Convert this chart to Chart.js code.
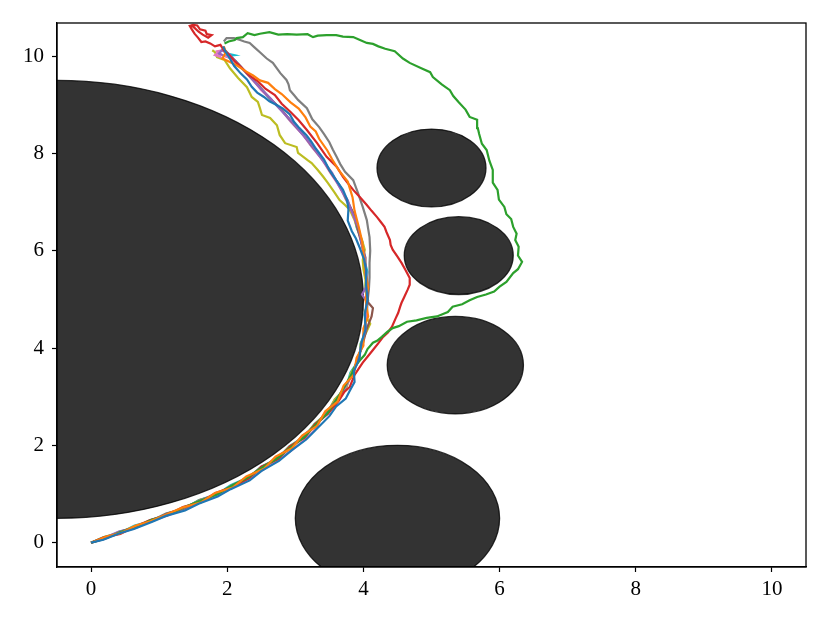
<!DOCTYPE html>
<html>
<head>
<meta charset="utf-8">
<script src="https://cdn.jsdelivr.net/npm/chart.js@4.4.0/dist/chart.umd.min.js"></script>
<style>
html, body { margin: 0; padding: 0; background: #fff; }
</style>
</head>
<body>
<canvas id="chart" width="830" height="623"></canvas>
<script>
// axis ticks
const xTicks = [0, 2, 4, 6, 8, 10];
const yTicks = [0, 2, 4, 6, 8, 10];

// obstacles: centre x, centre y, radius
const obstacleX = [-0.5, 5.0, 5.4, 5.35, 4.5];
const obstacleY = [5.0, 7.7, 5.9, 3.65, 0.5];
const obstacleR = [4.5, 0.8, 0.8, 1.0, 1.5];

// trajectories [x, y]
const trackBlue = [[0,0],[0.18,0.06],[0.41,0.19],[0.63,0.28],[0.9,0.43],[1.1,0.55],[1.38,0.66],[1.58,0.8],[1.86,0.95],[2.05,1.1],[2.33,1.28],[2.5,1.47],[2.76,1.68],[2.95,1.9],[3.16,2.12],[3.33,2.36],[3.5,2.6],[3.6,2.8],[3.74,2.96],[3.8,3.12],[3.87,3.3],[3.86,3.52],[3.94,3.78],[3.97,4.1],[4.03,4.38],[4.02,4.7],[4.06,5.0],[4.04,5.3],[4.04,5.6],[4.01,5.82],[3.95,6.05],[3.89,6.25],[3.83,6.4],[3.77,6.62],[3.78,6.85],[3.76,7.05],[3.7,7.25],[3.6,7.45],[3.5,7.66],[3.42,7.88],[3.3,8.1],[3.23,8.25],[3.16,8.38],[3.06,8.52],[2.98,8.65],[2.92,8.8],[2.82,8.92],[2.72,9.0],[2.62,9.07],[2.54,9.16],[2.44,9.25],[2.36,9.37],[2.29,9.52],[2.2,9.64],[2.1,9.8],[2.04,9.95],[1.97,10.1],[1.94,10.2]];
const trackOrange = [[0,0],[0.22,0.12],[0.44,0.2],[0.66,0.35],[0.87,0.44],[1.14,0.6],[1.34,0.72],[1.62,0.83],[1.82,1.02],[2.09,1.14],[2.28,1.36],[2.54,1.52],[2.71,1.77],[2.95,1.94],[3.1,2.2],[3.32,2.4],[3.44,2.7],[3.62,2.9],[3.71,3.23],[3.86,3.45],[3.9,3.8],[4.0,4.05],[4.0,4.4],[4.07,4.65],[4.03,5.0],[4.07,5.25],[4.03,5.55],[4.01,5.85],[3.98,6.2],[3.93,6.5],[3.87,6.82],[3.84,7.1],[3.77,7.42],[3.64,7.65],[3.54,7.88],[3.47,8.06],[3.35,8.3],[3.3,8.45],[3.22,8.55],[3.15,8.74],[3.05,8.92],[2.93,9.05],[2.8,9.22],[2.7,9.32],[2.6,9.45],[2.48,9.5],[2.38,9.6],[2.28,9.68],[2.15,9.8],[2.04,9.88],[1.93,9.95],[1.98,10.08],[1.95,10.2]];
const trackGreen = [[0,0],[0.2,0.08],[0.43,0.22],[0.64,0.31],[0.89,0.47],[1.11,0.56],[1.37,0.73],[1.6,0.86],[1.85,0.99],[2.08,1.18],[2.29,1.33],[2.53,1.56],[2.72,1.72],[2.94,1.97],[3.13,2.17],[3.31,2.44],[3.47,2.66],[3.61,2.95],[3.72,3.2],[3.83,3.47],[3.86,3.58],[3.93,3.72],[4.02,3.86],[4.06,3.98],[4.14,4.11],[4.2,4.15],[4.27,4.23],[4.35,4.33],[4.43,4.41],[4.52,4.45],[4.64,4.54],[4.78,4.57],[4.93,4.62],[5.08,4.65],[5.24,4.74],[5.31,4.85],[5.45,4.9],[5.56,4.98],[5.67,5.05],[5.8,5.1],[5.92,5.16],[6.0,5.26],[6.1,5.36],[6.2,5.54],[6.27,5.62],[6.33,5.77],[6.27,5.9],[6.28,6.08],[6.23,6.22],[6.25,6.35],[6.2,6.49],[6.17,6.65],[6.1,6.75],[6.07,6.9],[5.99,7.05],[5.97,7.25],[5.9,7.4],[5.9,7.66],[5.85,7.85],[5.81,8.07],[5.74,8.2],[5.7,8.4],[5.68,8.52],[5.67,8.69],[5.56,8.75],[5.5,8.9],[5.4,9.05],[5.32,9.18],[5.27,9.3],[5.15,9.42],[5.02,9.57],[4.98,9.67],[4.85,9.75],[4.68,9.86],[4.58,9.95],[4.46,10.1],[4.32,10.15],[4.22,10.2],[4.14,10.25],[4.05,10.27],[3.95,10.33],[3.85,10.39],[3.7,10.4],[3.6,10.43],[3.46,10.43],[3.33,10.42],[3.26,10.39],[3.18,10.45],[3.02,10.44],[2.88,10.45],[2.75,10.44],[2.62,10.49],[2.48,10.46],[2.4,10.43],[2.3,10.47],[2.23,10.39],[2.14,10.37],[2.11,10.33],[2.02,10.3],[1.96,10.26]];
const trackRed = [[0,0],[0.19,0.11],[0.43,0.18],[0.66,0.34],[0.86,0.46],[1.13,0.57],[1.35,0.73],[1.62,0.84],[1.83,1.02],[2.06,1.14],[2.32,1.32],[2.5,1.56],[2.75,1.72],[2.92,1.98],[3.14,2.16],[3.29,2.44],[3.48,2.65],[3.64,2.92],[3.72,3.1],[3.8,3.2],[3.87,3.45],[3.99,3.7],[4.06,3.82],[4.14,3.96],[4.22,4.1],[4.29,4.23],[4.36,4.32],[4.42,4.44],[4.47,4.6],[4.51,4.72],[4.54,4.85],[4.56,4.93],[4.6,5.05],[4.65,5.2],[4.68,5.3],[4.68,5.44],[4.62,5.6],[4.56,5.75],[4.5,5.88],[4.43,6.02],[4.4,6.12],[4.39,6.22],[4.34,6.38],[4.31,6.49],[4.25,6.6],[4.2,6.69],[4.12,6.82],[4.05,6.94],[3.95,7.1],[3.85,7.25],[3.77,7.39],[3.7,7.52],[3.61,7.72],[3.46,7.93],[3.32,8.21],[3.17,8.48],[3.05,8.68],[2.93,8.85],[2.8,9.02],[2.7,9.2],[2.56,9.33],[2.45,9.48],[2.33,9.6],[2.22,9.75],[2.12,9.88],[2.03,10.02],[1.95,10.12],[1.9,10.23],[1.82,10.2],[1.75,10.26],[1.68,10.3],[1.62,10.29],[1.57,10.38],[1.52,10.46],[1.48,10.55],[1.45,10.62],[1.5,10.64],[1.56,10.63],[1.6,10.55],[1.68,10.52],[1.7,10.45],[1.77,10.43],[1.72,10.38],[1.64,10.44],[1.58,10.5],[1.52,10.58],[1.47,10.64]];
const trackPurple = [[0,0],[0.2,0.1],[0.41,0.23],[0.66,0.31],[0.88,0.47],[1.11,0.57],[1.37,0.72],[1.59,0.86],[1.85,1.01],[2.06,1.15],[2.31,1.35],[2.51,1.53],[2.74,1.75],[2.92,1.95],[3.13,2.19],[3.29,2.41],[3.47,2.68],[3.59,2.92],[3.74,3.21],[3.83,3.47],[3.93,3.76],[3.97,4.08],[4.03,4.36],[4.03,4.68],[4.05,4.95],[3.98,5.1],[4.02,5.2],[4.05,5.3],[4.03,5.58],[4.02,5.88],[3.97,6.18],[3.93,6.46],[3.84,6.77],[3.77,7.04],[3.64,7.33],[3.54,7.6],[3.39,7.88],[3.27,8.12],[3.1,8.4],[2.96,8.64],[2.78,8.9],[2.63,9.14],[2.44,9.41],[2.31,9.62],[2.14,9.86],[2.03,10.04],[1.92,10.12],[1.88,10.05],[1.96,10.0]];
const trackBrown = [[0,0],[0.19,0.09],[0.43,0.22],[0.64,0.32],[0.89,0.44],[1.11,0.59],[1.36,0.7],[1.61,0.86],[1.83,0.99],[2.08,1.17],[2.29,1.33],[2.53,1.55],[2.72,1.73],[2.94,1.97],[3.11,2.17],[3.31,2.43],[3.45,2.66],[3.61,2.94],[3.72,3.19],[3.85,3.49],[3.91,3.76],[3.99,4.08],[4.05,4.4],[4.12,4.65],[4.14,4.82],[4.06,4.95],[4.06,5.28],[4.03,5.56],[4.03,5.86],[3.97,6.16],[3.91,6.48],[3.86,6.75],[3.75,7.06],[3.66,7.32],[3.52,7.61],[3.41,7.86],[3.25,8.14],[3.12,8.38],[2.94,8.66],[2.8,8.89],[2.61,9.16],[2.46,9.39],[2.29,9.64],[2.16,9.84],[2.01,10.06],[1.94,10.16]];
const trackPink = [[0,0],[0.21,0.08],[0.42,0.2],[0.65,0.3],[0.88,0.44],[1.13,0.56],[1.36,0.69],[1.61,0.83],[1.84,0.97],[2.08,1.13],[2.3,1.3],[2.53,1.5],[2.74,1.7],[2.95,1.9],[3.12,2.1],[3.29,2.32],[3.36,2.5],[3.47,2.64],[3.6,2.9],[3.73,3.18],[3.84,3.46],[3.92,3.79],[3.98,4.06],[4.02,4.38],[4.04,4.68],[4.04,4.98],[4.06,5.26],[4.04,5.58],[4.01,5.86],[3.97,6.18],[3.92,6.46],[3.84,6.78],[3.75,7.04],[3.64,7.34],[3.52,7.59],[3.39,7.88],[3.25,8.12],[3.1,8.4],[2.94,8.64],[2.78,8.91],[2.64,9.12],[2.5,9.3],[2.43,9.42],[2.3,9.62],[2.16,9.84],[2.02,9.98],[1.95,10.0],[1.87,10.08],[1.82,10.02],[1.9,9.98],[1.85,10.1],[1.93,10.12]];
const trackGray = [[0,0],[0.21,0.09],[0.42,0.23],[0.65,0.31],[0.9,0.46],[1.1,0.6],[1.37,0.7],[1.59,0.87],[1.85,0.98],[2.07,1.18],[2.31,1.33],[2.53,1.53],[2.72,1.76],[2.94,1.95],[3.11,2.2],[3.31,2.41],[3.45,2.69],[3.61,2.92],[3.72,3.21],[3.85,3.47],[3.91,3.78],[3.99,4.06],[4.01,4.38],[4.05,4.66],[4.06,4.95],[4.08,5.2],[4.09,5.45],[4.09,5.75],[4.1,6.0],[4.09,6.28],[4.07,6.45],[4.05,6.63],[3.99,6.9],[3.92,7.19],[3.85,7.45],[3.73,7.62],[3.66,7.78],[3.61,7.92],[3.55,8.08],[3.5,8.23],[3.42,8.4],[3.35,8.54],[3.25,8.7],[3.17,8.93],[3.04,9.1],[2.98,9.2],[2.92,9.3],[2.9,9.42],[2.87,9.51],[2.78,9.65],[2.67,9.86],[2.58,9.95],[2.48,10.08],[2.4,10.18],[2.33,10.27],[2.25,10.3],[2.19,10.33],[2.1,10.37],[1.99,10.37],[1.95,10.3]];
const trackOlive = [[0,0],[0.2,0.12],[0.4,0.2],[0.63,0.33],[0.87,0.43],[1.12,0.6],[1.35,0.69],[1.6,0.88],[1.83,0.97],[2.09,1.17],[2.28,1.31],[2.52,1.56],[2.74,1.73],[2.91,1.97],[3.13,2.18],[3.28,2.43],[3.47,2.67],[3.58,2.95],[3.75,3.18],[3.82,3.5],[3.94,3.74],[3.96,4.08],[4.05,4.35],[4.1,4.5],[4.02,4.68],[4.06,4.96],[4.03,5.2],[4.03,5.4],[4.0,5.62],[3.99,5.81],[4.02,6.02],[3.98,6.22],[3.92,6.43],[3.87,6.63],[3.8,6.84],[3.73,6.94],[3.65,7.04],[3.58,7.19],[3.48,7.39],[3.41,7.52],[3.33,7.66],[3.24,7.8],[3.18,7.86],[3.04,8.01],[3.02,8.13],[2.85,8.21],[2.77,8.38],[2.73,8.58],[2.63,8.73],[2.51,8.79],[2.48,8.93],[2.45,9.06],[2.36,9.16],[2.29,9.36],[2.16,9.55],[2.04,9.75],[1.96,9.92],[1.85,9.98],[1.82,10.08],[1.78,10.12]];
const trackCyan = [[0,0],[0.18,0.11],[0.44,0.21],[0.64,0.35],[0.9,0.45],[1.1,0.59],[1.38,0.71],[1.58,0.87],[1.86,1.0],[2.05,1.18],[2.32,1.35],[2.5,1.56],[2.75,1.74],[2.91,1.98],[3.14,2.19],[3.28,2.44],[3.48,2.68],[3.58,2.94],[3.75,3.2],[3.81,3.5],[3.94,3.76],[3.96,4.1],[4.04,4.36],[4.02,4.7],[4.07,4.97],[4.03,5.28],[4.06,5.56],[4.0,5.88],[3.99,6.16],[3.9,6.48],[3.86,6.74],[3.74,7.06],[3.66,7.32],[3.51,7.62],[3.41,7.86],[3.24,8.14],[3.12,8.38],[2.93,8.66],[2.8,8.88],[2.6,9.16],[2.47,9.38],[2.28,9.65],[2.2,9.78],[2.12,9.9],[2.05,9.95],[1.98,10.0],[2.1,10.02],[2.0,10.05],[1.95,10.1]];

const tracks = [trackBlue, trackOrange, trackGreen, trackRed, trackPurple, trackBrown, trackPink, trackGray, trackOlive, trackCyan];
const trackColors = ['#1f77b4', '#ff7f0e', '#2ca02c', '#d62728', '#9467bd', '#8c564b', '#e377c2', '#7f7f7f', '#bcbd22', '#17becf'];

const tickFont = { family: '"Liberation Serif", "DejaVu Serif", serif', size: 21 };

// obstacles drawn under the lines, frame drawn on top
const obstaclePlugin = {
    id: 'obstacles',
    beforeDatasetsDraw(chart) {
        const { ctx, chartArea, scales: { x, y } } = chart;
        ctx.save();
        ctx.beginPath();
        ctx.rect(chartArea.left, chartArea.top, chartArea.width, chartArea.height);
        ctx.clip();
        obstacleX.forEach((cx, i) => {
            const px = x.getPixelForValue(cx);
            const py = y.getPixelForValue(obstacleY[i]);
            const rx = Math.abs(x.getPixelForValue(cx + obstacleR[i]) - px);
            const ry = Math.abs(y.getPixelForValue(obstacleY[i] + obstacleR[i]) - py);
            ctx.beginPath();
            ctx.ellipse(px, py, rx, ry, 0, 0, Math.PI * 2);
            ctx.fillStyle = 'rgba(0,0,0,0.8)';
            ctx.fill();
            ctx.lineWidth = 1.3;
            ctx.strokeStyle = 'rgba(0,0,0,0.8)';
            ctx.stroke();
        });
        ctx.restore();
    },
    afterDraw(chart) {
        const { ctx, chartArea } = chart;
        ctx.save();
        ctx.strokeStyle = '#000';
        ctx.lineWidth = 1.3;
        ctx.strokeRect(chartArea.left, chartArea.top, chartArea.width, chartArea.height);
        ctx.restore();
    }
};

new Chart(document.getElementById('chart'), {
    type: 'scatter',
    data: {
        datasets: tracks.map((t, i) => ({
            data: t.map(p => ({ x: p[0], y: p[1] })),
            showLine: true,
            borderColor: trackColors[i],
            backgroundColor: trackColors[i],
            borderWidth: 2.2,
            pointRadius: 0,
            tension: 0
        }))
    },
    options: {
        responsive: false,
        animation: false,
        layout: { padding: { top: 23, right: 24, left: 0, bottom: 0 } },
        plugins: {
            legend: { display: false },
            tooltip: { enabled: false }
        },
        scales: {
            x: {
                type: 'linear',
                min: -0.5,
                max: 10.5,
                afterBuildTicks: s => { s.ticks = xTicks.map(v => ({ value: v })); },
                afterFit: s => { s.height = 56; },
                ticks: { font: tickFont, color: '#000', padding: 5, maxRotation: 0 },
                grid: { drawOnChartArea: false, drawTicks: true, tickLength: 5, tickColor: '#000', tickWidth: 1.2 },
                border: { display: true, color: '#000', width: 1.3 }
            },
            y: {
                type: 'linear',
                min: -0.5,
                max: 10.68,
                afterBuildTicks: s => { s.ticks = yTicks.map(v => ({ value: v })); },
                afterFit: s => { s.width = 57; },
                ticks: { font: tickFont, color: '#000', padding: 8 },
                grid: { drawOnChartArea: false, drawTicks: true, tickLength: 5, tickColor: '#000', tickWidth: 1.2 },
                border: { display: true, color: '#000', width: 1.3 }
            }
        }
    },
    plugins: [obstaclePlugin]
});
</script>
</body>
</html>
